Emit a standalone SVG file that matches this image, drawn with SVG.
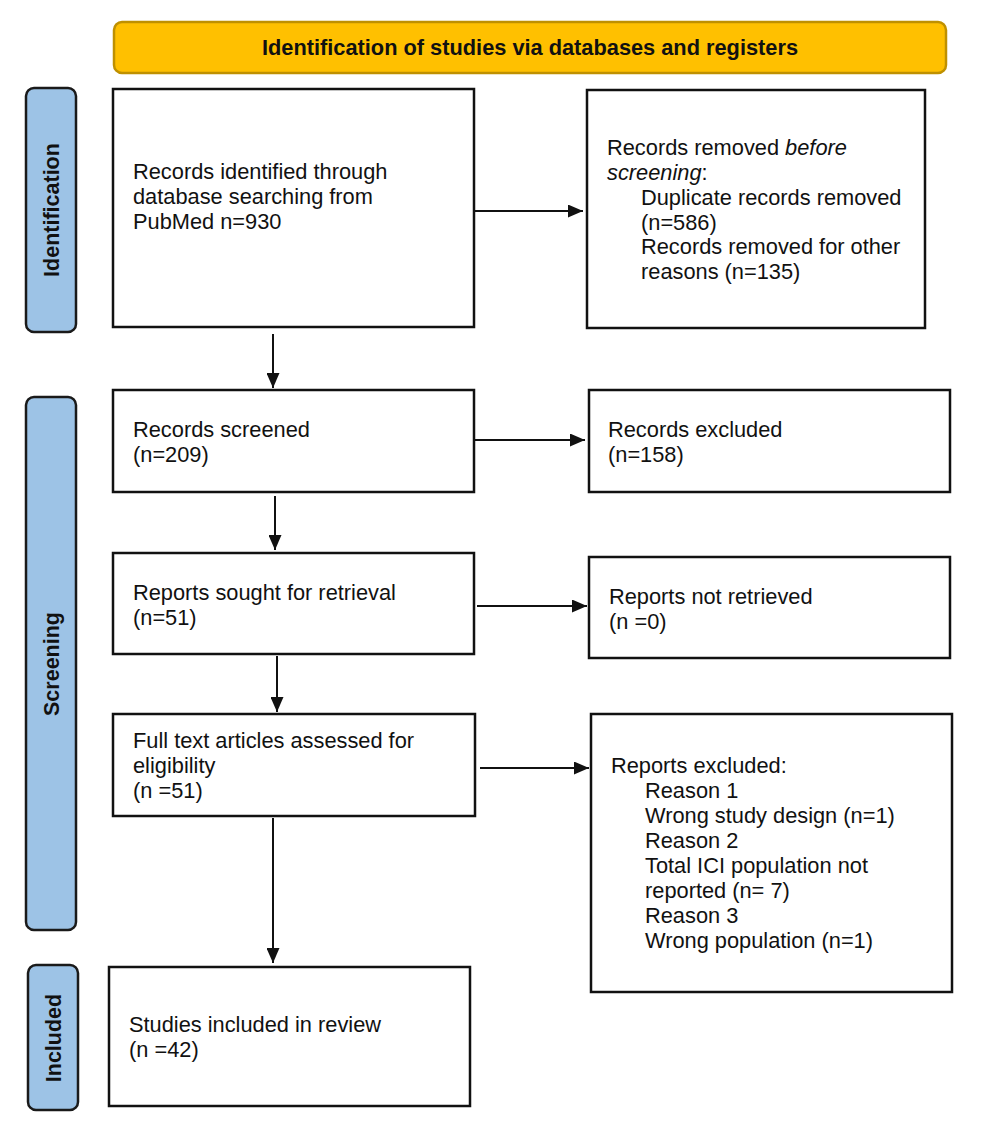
<svg xmlns="http://www.w3.org/2000/svg" width="986" height="1147" viewBox="0 0 986 1147">
<style>
.box{fill:#fff;stroke:#111;stroke-width:2.5}
.side{fill:#9DC3E6;stroke:#1a1a1a;stroke-width:2.5}
.hdr{fill:#FFC000;stroke:#BF9000;stroke-width:2.5}
.t{font-family:"Liberation Sans",Arial,sans-serif;font-size:21.8px;fill:#111}
.b{font-family:"Liberation Sans",Arial,sans-serif;font-size:21.5px;font-weight:bold;fill:#111}
.ln{stroke:#111;stroke-width:2;fill:none}
</style>
<defs>
<marker id="ah" markerWidth="15" markerHeight="13" refX="15" refY="6.5" orient="auto" markerUnits="userSpaceOnUse" viewBox="0 0 15 13">
<path d="M0,0 L15,6.5 L0,13 z" fill="#111"/>
</marker>
</defs>
<rect width="986" height="1147" fill="#fff"/>
<g id="header">
<rect class="hdr" x="114" y="22" width="832" height="51" rx="8"/>
<text class="b" x="530" y="55" text-anchor="middle" textLength="536" lengthAdjust="spacingAndGlyphs">Identification of studies via databases and registers</text>
</g>
<g id="side-identification">
<rect class="side" x="26" y="88" width="50" height="244" rx="8"/>
<text class="b" transform="translate(59,210) rotate(-90)" text-anchor="middle">Identification</text>
</g>
<g id="side-screening">
<rect class="side" x="26" y="397" width="50" height="533" rx="8"/>
<text class="b" transform="translate(59,664) rotate(-90)" text-anchor="middle">Screening</text>
</g>
<g id="side-included">
<rect class="side" x="28" y="965" width="50" height="145" rx="8"/>
<text class="b" transform="translate(61,1038) rotate(-90)" text-anchor="middle">Included</text>
</g>
<g id="n-identified">
<rect class="box" x="113" y="89" width="361" height="238"/>
<text class="t" x="133" y="179">Records identified through</text>
<text class="t" x="133" y="204">database searching from</text>
<text class="t" x="133" y="229">PubMed n=930</text>
</g>
<g id="n-removed">
<rect class="box" x="587" y="90" width="338" height="238"/>
<text class="t" x="607" y="155">Records removed <tspan font-style="italic">before</tspan></text>
<text class="t" x="607" y="180"><tspan font-style="italic">screening</tspan>:</text>
<text class="t" x="641" y="205">Duplicate records removed</text>
<text class="t" x="641" y="230">(n=586)</text>
<text class="t" x="641" y="254">Records removed for other</text>
<text class="t" x="641" y="279">reasons (n=135)</text>
</g>
<g id="n-screened">
<rect class="box" x="113" y="390" width="361" height="102"/>
<text class="t" x="133" y="437">Records screened</text>
<text class="t" x="133" y="462">(n=209)</text>
</g>
<g id="n-excluded">
<rect class="box" x="589" y="390" width="361" height="102"/>
<text class="t" x="608" y="437">Records excluded</text>
<text class="t" x="608" y="462">(n=158)</text>
</g>
<g id="n-sought">
<rect class="box" x="113" y="553" width="361" height="101"/>
<text class="t" x="133" y="600">Reports sought for retrieval</text>
<text class="t" x="133" y="625">(n=51)</text>
</g>
<g id="n-notretrieved">
<rect class="box" x="589" y="557" width="361" height="101"/>
<text class="t" x="609" y="604">Reports not retrieved</text>
<text class="t" x="609" y="629">(n =0)</text>
</g>
<g id="n-assessed">
<rect class="box" x="113" y="714" width="362" height="102"/>
<text class="t" x="133" y="748">Full text articles assessed for</text>
<text class="t" x="133" y="773">eligibility</text>
<text class="t" x="133" y="798">(n =51)</text>
</g>
<g id="n-repexcluded">
<rect class="box" x="591" y="714" width="361" height="278"/>
<text class="t" x="611" y="773">Reports excluded:</text>
<text class="t" x="645" y="798">Reason 1</text>
<text class="t" x="645" y="823">Wrong study design (n=1)</text>
<text class="t" x="645" y="848">Reason 2</text>
<text class="t" x="645" y="873">Total ICI population not</text>
<text class="t" x="645" y="898">reported (n= 7)</text>
<text class="t" x="645" y="923">Reason 3</text>
<text class="t" x="645" y="948">Wrong population (n=1)</text>
</g>
<g id="n-included">
<rect class="box" x="109" y="967" width="361" height="139"/>
<text class="t" x="129" y="1032">Studies included in review</text>
<text class="t" x="129" y="1057">(n =42)</text>
</g>
<g id="connectors">
<line class="ln" x1="474" y1="211" x2="583" y2="211" marker-end="url(#ah)"/>
<line class="ln" x1="273" y1="334" x2="273" y2="388" marker-end="url(#ah)"/>
<line class="ln" x1="474" y1="440" x2="585" y2="440" marker-end="url(#ah)"/>
<line class="ln" x1="275" y1="496" x2="275" y2="550" marker-end="url(#ah)"/>
<line class="ln" x1="477" y1="606" x2="587" y2="606" marker-end="url(#ah)"/>
<line class="ln" x1="277" y1="656" x2="277" y2="712" marker-end="url(#ah)"/>
<line class="ln" x1="480" y1="768" x2="589" y2="768" marker-end="url(#ah)"/>
<line class="ln" x1="273" y1="818" x2="273" y2="963" marker-end="url(#ah)"/>
</g>
</svg>
